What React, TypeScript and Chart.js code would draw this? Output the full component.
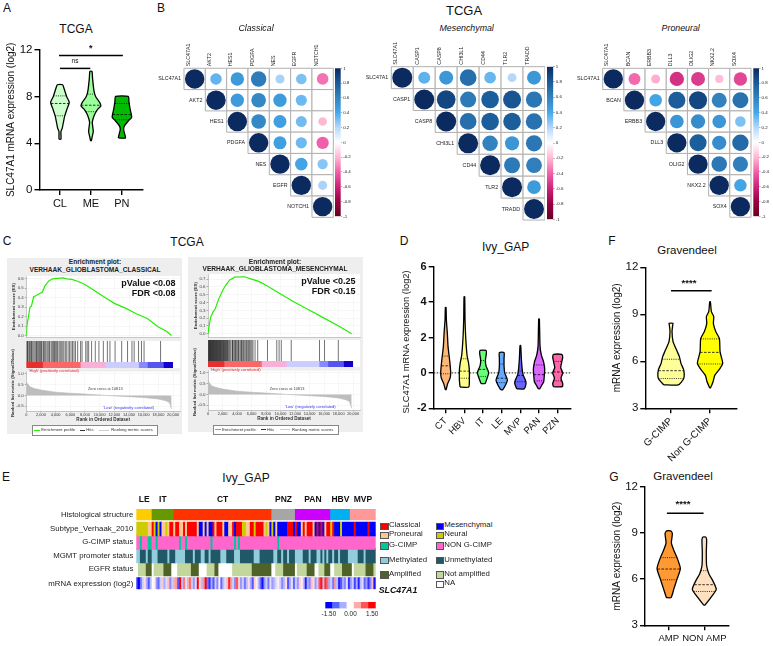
import React, { useEffect, useRef } from 'react';
import { Chart, registerables } from 'chart.js';

Chart.register(...registerables);
const FONT = '"Liberation Sans", Arial, sans-serif';
Chart.defaults.font.family = FONT;
Chart.defaults.color = '#111';

/* ---------- Panel A / D / F / G violins: [value, density], quartiles: [value, density] ---------- */
const catsA = ['CL', 'ME', 'PN'];
const violinCL = [[4.35, 3], [5, 3], [5.3, 7], [6.3, 14], [7, 22], [7.5, 28], [8, 20], [8.7, 12], [9, 8]];
const violinME = [[4.2, 1], [4.6, 4], [5, 7], [5.5, 5], [5.8, 4], [6.4, 10], [6.9, 20], [7.2, 30], [7.5, 26], [8, 14], [8.5, 9], [9.5, 5], [10.15, 3]];
const violinPN = [[4.45, 11], [4.8, 8], [5.2, 5], [5.5, 8], [5.9, 19], [6.2, 29], [6.5, 28], [7, 24], [7.6, 21], [8, 19]];
const quartCL = [[8.05, 19], [7.4, 27], [6.35, 14]];
const quartME = [[8.2, 10], [7.25, 30], [6.7, 14]];
const quartPN = [[7.4, 21], [6.45, 28], [6, 22]];
const bracketsA = [[0.97, 3.03, 11.5], [1, 1.98, 10.4]];

const catsD = ['CT', 'HBV', 'IT', 'LE', 'MVP', 'PAN', 'PZN'];
const violinCT = [[-0.95, 1], [-0.6, 6], [-0.3, 13], [0, 15], [0.5, 13], [1, 10], [1.5, 7], [2.2, 5], [3, 2], [3.7, 1]];
const violinHBV = [[-0.8, 13], [-0.4, 15], [0.1, 15], [0.5, 13], [1, 8], [2, 4], [3, 2], [4.3, 1]];
const violinIT = [[-0.6, 6], [-0.3, 12], [0, 17], [0.4, 9], [0.7, 7], [1.1, 10], [1.27, 9]];
const violinLE = [[-0.95, 3], [-0.7, 11], [-0.4, 17], [0, 9], [0.4, 7], [0.8, 7], [1.15, 7]];
const violinMVP = [[-0.9, 11], [-0.6, 17], [-0.4, 15], [-0.1, 8], [0.3, 5], [0.8, 3], [1.55, 1]];
const violinPAN = [[-0.9, 2], [-0.7, 8], [-0.5, 14], [-0.1, 16], [0.2, 17], [0.6, 14], [1, 7], [1.5, 3], [3.05, 1]];
const violinPZN = [[-0.78, 13], [-0.6, 15], [-0.3, 10], [0, 15], [0.3, 9], [0.6, 12], [0.9, 15], [1.05, 12]];
const quartCT = [[0.95, 10], [0.4, 13], [-0.05, 15]];
const quartHBV = [[0.8, 10], [0.1, 15], [-0.3, 15]];
const quartIT = [[0.7, 7], [0.2, 13], [-0.2, 14]];
const quartLE = [[0.5, 7], [-0.3, 15], [-0.55, 14]];
const quartMVP = [[0.1, 6], [-0.15, 9], [-0.5, 16]];
const quartPAN = [[0.45, 15], [-0.1, 16], [-0.45, 14]];
const quartPZN = [[0.65, 13], [0.05, 14], [-0.45, 13]];

const catsF = ['G-CIMP', 'Non G-CIMP'];
const violinGC = [[4.5, 22], [4.9, 38], [5.45, 38], [5.85, 30], [6.3, 25], [6.7, 17], [7.25, 6], [7.9, 3], [8.3, 5], [8.43, 6]];
const violinNG = [[4.3, 1], [4.7, 9], [5.1, 14], [5.55, 30], [5.87, 38], [6.6, 30], [7.45, 28], [7.9, 17], [8.4, 10], [8.85, 11], [9.17, 4], [9.8, 1]];
const quartGC = [[6.13, 26], [5.4, 38], [4.9, 38]];
const quartNG = [[7.43, 28], [6.57, 30], [5.83, 38]];
const bracketsF = [[1, 2.04, 10.5]];

const catsG = ['AMP', 'NON AMP'];
const violinAMP = [[4.8, 7], [5.4, 16], [6, 25], [6.7, 35], [7.4, 25], [7.9, 15], [8.36, 8], [8.96, 11], [9.14, 6]];
const violinNA = [[4.32, 2], [4.96, 25], [5.34, 36], [5.92, 25], [6.34, 14], [6.87, 7], [7.72, 6], [8.57, 7], [8.74, 4]];
const quartAMP = [[7.4, 25], [6.66, 34], [5.96, 25]];
const quartNA = [[6.55, 10], [5.64, 30], [5.2, 32]];
const bracketsG = [[0.95, 1.98, 10.28]];

/* ---------- Panel B correlation matrices (upper triangle by row) ---------- */
const genesCL = ['SLC47A1', 'AKT2', 'HES1', 'PDGFA', 'NES', 'EGFR', 'NOTCH1'];
const corrCL = [
  [1, 0.35, 0.48, 0.63, 0.22, 0.3, -0.36],
  [1, 0.47, 0.57, 0.47, 0.33, null],
  [1, 0.57, 0.45, 0.32, -0.2],
  [1, 0.45, 0.33, -0.4],
  [1, 0.42, 0.28],
  [1, 0.22],
  [1],
];
const genesME = ['SLC47A1', 'CASP1', 'CASP8', 'CHI3L1', 'CD44', 'TLR2', 'TRADD'];
const corrME = [
  [1, 0.36, 0.49, 0.7, 0.34, 0.2, 0.49],
  [1, 0.88, 0.64, 0.78, 0.82, 0.66],
  [1, 0.7, 0.78, 0.78, 0.68],
  [1, 0.6, 0.5, 0.66],
  [1, 0.64, 0.62],
  [1, 0.47],
  [1],
];
const genesPN = ['SLC47A1', 'BCAN', 'ERBB3', 'DLL3', 'OLIG2', 'NKX2.2', 'SOX4'];
const corrPN = [
  [1, -0.38, -0.22, -0.55, -0.52, -0.18, -0.48],
  [1, 0.42, 0.78, 0.88, 0.6, 0.68],
  [1, 0.5, 0.55, 0.5, 0.3],
  [1, 0.78, 0.55, 0.72],
  [1, 0.65, 0.62],
  [1, 0.42],
  [1],
];
const corrStops: [number, string][] = [
  [-1, '#67001f'], [-0.8, '#990044'], [-0.6, '#cc2277'], [-0.4, '#f060a8'], [-0.2, '#ffb8d4'], [0, '#ffffff'],
  [0.2, '#b5d8fa'], [0.4, '#45a8ea'], [0.6, '#3282c0'], [0.8, '#1a5a98'], [1, '#0a2a60'],
];

/* ---------- Panel C GSEA ---------- */
const esClassical = [[0, 0], [100, 0.11], [300, 0.2], [500, 0.3], [700, 0.31], [1000, 0.41], [1300, 0.42], [1700, 0.44], [2200, 0.46], [2500, 0.52], [3100, 0.58], [3600, 0.6], [5000, 0.61], [5500, 0.6], [6200, 0.595], [7000, 0.575], [8000, 0.54], [9000, 0.49], [10000, 0.44], [11000, 0.39], [12000, 0.34], [13500, 0.29], [15000, 0.23], [16500, 0.18], [18000, 0.09], [19000, 0.05], [19800, 0]];
const esMesenchymal = [[0, 0], [200, 0.13], [400, 0.22], [700, 0.28], [1000, 0.32], [1500, 0.45], [2000, 0.55], [2500, 0.63], [3000, 0.69], [3700, 0.725], [5000, 0.73], [6000, 0.7], [7000, 0.67], [8000, 0.62], [10000, 0.51], [12000, 0.4], [14000, 0.3], [16000, 0.2], [18000, 0.1], [19800, 0]];
const hitsClassical = [50, 150, 200, 350, 450, 600, 700, 800, 950, 1150, 1300, 1400, 1500, 1650, 1800, 1950, 2050, 2150, 2350, 2450, 2600, 2800, 2950, 3100, 3200, 3400, 3550, 3700, 3850, 3950, 4100, 4250, 4450, 4600, 4750, 4900, 5100, 5300, 5450, 5700, 5900, 6100, 6300, 6500, 6700, 7000, 7400, 7600, 8100, 8300, 8500, 8900, 9400, 9900, 10500, 11050, 11400, 12100, 13000, 13800, 14400, 14700, 15300, 15700, 16050, 18300];
const hitsMesenchymal = [30, 90, 150, 210, 280, 340, 400, 470, 530, 600, 660, 720, 790, 850, 920, 980, 1050, 1120, 1190, 1250, 1320, 1400, 1470, 1540, 1610, 1680, 1750, 1820, 1900, 1980, 2060, 2140, 2220, 2300, 2380, 2460, 2540, 2650, 2720, 2800, 2950, 3080, 3300, 3380, 3450, 3600, 3720, 3800, 3950, 4100, 4200, 4300, 4500, 4620, 4700, 4850, 4950, 5100, 5250, 5350, 5500, 5620, 5750, 5900, 6050, 6200, 6485, 6850, 8200, 9480, 9800, 10100, 11470, 15370, 16060, 17960];
const rankedMetric = [[0, 0.62], [500, 0.4], [1000, 0.33], [2000, 0.25], [4000, 0.15], [6000, 0.1], [8000, 0.06], [10000, 0.02], [10813, 0], [14000, -0.06], [16000, -0.1], [18000, -0.17], [19000, -0.25], [19500, -0.33], [19800, -0.65]];
const bandEdges = [0, 2300, 7450, 10860, 15400, 16600, 18770, 19950];
const bandColors = ['#e63030', '#f86868', '#f8b0d8', '#ccccff', '#8888ff', '#5555ee', '#1100cc'];
const rankTicks = [0, 2000, 4000, 6000, 8000, 10000, 12000, 14000, 16000, 18000, 20000];

/* ---------- Panel E heat map: run-length codes, 122 samples ---------- */
const rowLabels = ['Histological structure', 'Subtype_Verhaak_2010', 'G-CIMP status', 'MGMT promoter status', 'EGFR status', 'mRNA expression (log2)'];
const regionNames = ['LE', 'IT', 'CT', 'PNZ', 'PAN', 'HBV', 'MVP'];
const regionRuns = 'a8b11c50d12e18f10g13';
const subtypeRuns = 'N6P2C1N1M1N1M1P2N1P1C2P1C2P2C1P1C5P1M2P1M1P1M2C1P1C3P1M2P2C1M1C3N2P2C2N1C4P1N1P1M1N1M1P1M5C3M1C1M2P1C1P1C3P1M1C1M1C1M1P1C2N1C1M3N1M6C1M6C1M3';
const cimpRuns = 'N2G1N3G2N2G1N11G1N2G1N12G1N11G1N1G1N19G1N49';
const mgmtRuns = 'L2D3L1D2L3D5L1D3L5D4L1D3L2D2L1D5L3D4L3D7L3D7L2D2L1D2L1D3L4D3L1D3L2D1L1D1L1D2L1D2L1D4L5D3L1D5';
const egfrRuns = 'W1S4A3W1S5A4W3S7A4W4S4A2W7S10A10W2S4A6W1S5A4W2S3A3W2S4A5W1S6A4S1';
const mrnaValues = [
  -1.2, -1.5, -0.8, -0.3, 0.2, -0.5, -1, -0.4, 0, 0.1,
  -0.6, -0.9, -0.3, 0.3, -0.5, -0.2, 0.4, -0.7, -0.3, 0.5,
  0.6, -1, 1.5, -0.4, 0.8, -0.2, 0.5, 0.9, -0.3, -0.6,
  -0.2, 1.5, 0.2, -0.4, 0.6, 1.5, -0.8, -1.2, -0.5, -1,
  -0.3, -0.7, 0.1, -0.9, -0.4, -0.2, 0.4, 1.3, 0.6, -0.3,
  -0.7, 1, 0.3, -0.6, -0.3, -0.8, -0.4, 0.2, -0.5, -1,
  0.3, 0.1, -0.4, -0.9, -1.4, -0.6, -0.3, -0.8, -0.2, -0.6,
  -0.4, -0.2, 0.1, -0.3, -0.7, -0.4, 0.2, -1, -0.5, -0.2,
  -0.9, -0.3, -0.6, 0.3, 0.1, -0.4, -1.3, -0.5, -0.7, 0.4,
  0.2, -0.6, -0.3, 1, 1.4, -0.4, 1.2, 0.9, -0.5, -0.3,
  -0.8, 0.6, -0.4, -1.3, -1, -0.5, -0.7, -0.2, -1.2, -0.6,
  -0.3, -1.1, -0.5, -1.3, -0.4, -0.2, -0.9, -0.6, -1.2, -0.7,
  0.4, -1.4,
];
const regionColors: Record<string, string> = { a: '#ffcc00', b: '#669900', c: '#ff3300', d: '#a6a6a6', e: '#cc00ff', f: '#00b0f0', g: '#ff9999' };
const subtypeColors: Record<string, string> = { C: '#ff0000', P: '#ffc78f', N: '#cccc00', M: '#0000ff' };
const cimpColors: Record<string, string> = { G: '#00c896', N: '#ff66cc' };
const mgmtColors: Record<string, string> = { L: '#92cddc', D: '#205867' };
const egfrColors: Record<string, string> = { W: '#ffffff', S: '#c3d69b', A: '#4f6228' };
const scaleEdges = [-1.75, -1.25, -0.75, -0.25, 0.25, 0.75, 1.25, 1.75];
const scaleColors = ['#0000ff', '#5566ff', '#aab0ff', '#ffffff', '#ffaaaa', '#ff5555', '#ff0000'];
const legendE: [string, string, number, number][] = [
  ['Classical', '#ff0000', 0, 525.3], ['Mesenchymal', '#0000ff', 1, 525.3],
  ['Proneural', '#ffc78f', 0, 534.3], ['Neural', '#cccc00', 1, 534.3],
  ['G-CIMP', '#00c896', 0, 545], ['NON G-CIMP', '#ff66cc', 1, 545],
  ['Methylated', '#92cddc', 0, 559.7], ['Unmethylated', '#205867', 1, 559.7],
  ['Amplified', '#4f6228', 0, 574], ['Not amplified', '#c3d69b', 1, 574],
  ['NA', '#ffffff', 1, 583.3],
];

/* ---------- helpers ---------- */
type Box = { x: number; y: number; w: number; h: number };
type Plot = { l: number; t: number; r: number; b: number };

function place(cfg: any, box: Box, plot: Plot) {
  const pad: any = { left: plot.l - box.x, top: plot.t - box.y, right: box.x + box.w - plot.r, bottom: box.y + box.h - plot.b };
  const scales = cfg.options.scales || {};
  for (const key of Object.keys(scales)) {
    const s = scales[key];
    if (s.display === false) continue;
    const isX = key[0] === 'x';
    const pos = s.position || (isX ? 'bottom' : 'left');
    const size = pad[pos];
    pad[pos] = 0;
    s.afterFit = (sc: any) => { if (isX) sc.height = size; else sc.width = size; };
  }
  cfg.options.layout = { padding: pad, autoPadding: false };
  cfg.options.responsive = false;
  cfg.options.animation = false;
  cfg.options.events = [];
  cfg.options.plugins = Object.assign({ legend: { display: false }, tooltip: { enabled: false } }, cfg.options.plugins || {});
  return cfg;
}

function ChartBox({ box, plot, make }: { box: Box; plot: Plot; make: () => any }) {
  const ref = useRef<HTMLCanvasElement>(null);
  useEffect(() => {
    const c = new Chart(ref.current as any, place(make(), box, plot));
    return () => c.destroy();
  }, []);
  return <canvas ref={ref} width={box.w} height={box.h} style={{ position: 'absolute', left: box.x, top: box.y, width: box.w, height: box.h }} />;
}

function Txt({ x, y, s, size, bold, italic, rot, color, align }: any) {
  const tx = align === 'left' ? '0' : align === 'right' ? '-100%' : '-50%';
  return (
    <div style={{
      position: 'absolute', left: x, top: y, whiteSpace: 'nowrap', fontFamily: FONT, fontSize: size, lineHeight: 1,
      fontWeight: bold ? 700 : 400, fontStyle: italic ? 'italic' : 'normal', color: color || '#111',
      transform: `translate(${tx},-50%)${rot ? ` rotate(${rot}deg)` : ''}`,
    }}>{s}</div>
  );
}

const plotBg = {
  id: 'plotBg',
  beforeDraw(chart: any) {
    const a = chart.chartArea;
    chart.ctx.save();
    chart.ctx.fillStyle = '#ffffff';
    chart.ctx.fillRect(a.left, a.top, a.right - a.left, a.bottom - a.top);
    chart.ctx.restore();
  },
};

const violinFill = {
  id: 'violinFill',
  beforeDatasetDraw(chart: any, args: any) {
    const ds = chart.data.datasets[args.index];
    if (!ds.violinFill) return;
    const line = args.meta.dataset;
    line.updateControlPoints(chart.chartArea);
    const ctx = chart.ctx;
    ctx.save();
    ctx.beginPath();
    line.path(ctx);
    ctx.closePath();
    ctx.fillStyle = ds.violinFill;
    ctx.fill();
    ctx.restore();
  },
};

function violinChart(o: any) {
  const { labels, items, k, xMin, xMax, yMin, yMax, yStep, brackets, yTitle, tickFont, xFont, rotate, zeroLine, yBold, titleFont } = o;
  const datasets: any[] = [];
  const line = (data: any[], w: number, dash: number[]) => ({ data, showLine: true, pointRadius: 0, borderColor: '#000', borderWidth: w, borderDash: dash, clip: false, tension: 0 });
  items.forEach((it: any, i: number) => {
    const c = i + 1;
    it.quart.forEach((q: number[], j: number) => {
      datasets.push(line([{ x: c - q[1] * k, y: q[0] }, { x: c + q[1] * k, y: q[0] }], 0.8, j === 1 ? [2.5, 1.5] : [1, 1.2]));
    });
  });
  (brackets || []).forEach((b: number[]) => datasets.push(line([{ x: b[0], y: b[2] }, { x: b[1], y: b[2] }], 1.5, [])));
  items.forEach((it: any, i: number) => {
    const c = i + 1;
    const left = it.profile.map((p: number[]) => ({ x: c - p[1] * k, y: p[0] }));
    const right = it.profile.slice().reverse().map((p: number[]) => ({ x: c + p[1] * k, y: p[0] }));
    datasets.push({ ...line([...left, ...right, left[0]], 1.3, []), tension: 0.2, violinFill: it.color, borderJoinStyle: 'round' });
  });
  if (zeroLine) datasets.push(line([{ x: xMin, y: 0 }, { x: xMax, y: 0 }], 0.9, [1.5, 1.5]));
  const axisGrid = { drawOnChartArea: false, drawTicks: true, tickLength: 5, tickColor: '#000', tickWidth: 1.4, lineWidth: 1.4 };
  return {
    type: 'scatter',
    data: { datasets },
    plugins: [violinFill],
    options: {
      scales: {
        x: {
          type: 'linear', min: xMin, max: xMax, grid: axisGrid, border: { color: '#000', width: 1.4 },
          afterBuildTicks: (s: any) => { s.ticks = labels.map((_: string, i: number) => ({ value: i + 1 })); },
          ticks: {
            autoSkip: false, padding: 2, color: '#111', font: { size: xFont },
            minRotation: rotate || 0, maxRotation: rotate || 0,
            callback: (_: any, i: number) => labels[i],
          },
        },
        y: {
          type: 'linear', min: yMin, max: yMax, grid: axisGrid, border: { color: '#000', width: 1.4 },
          ticks: { stepSize: yStep, padding: 2, color: '#111', font: { size: tickFont, weight: yBold ? 'bold' : 'normal' } },
          title: yTitle ? { display: true, text: yTitle, color: '#111', font: { size: titleFont || 10 }, padding: 0 } : { display: false },
        },
      },
    },
  };
}

function stopColor(stops: [number, string][], v: number) {
  const hex = (h: string) => [1, 3, 5].map((i) => parseInt(h.slice(i, i + 2), 16));
  for (let i = 1; i < stops.length; i++) {
    if (v <= stops[i][0]) {
      const t = (v - stops[i - 1][0]) / (stops[i][0] - stops[i - 1][0]);
      const a = hex(stops[i - 1][1]);
      const b = hex(stops[i][1]);
      return `rgb(${a.map((x, j) => Math.round(x + (b[j] - x) * t)).join(',')})`;
    }
  }
  return stops[stops.length - 1][1];
}

const rowLabelPlugin = {
  id: 'rowLabelPlugin',
  afterDraw(chart: any) {
    const labels = chart.config.options.rowNames;
    const { ctx, scales } = chart;
    ctx.save();
    ctx.font = `5.3px ${FONT}`;
    ctx.fillStyle = '#222';
    ctx.textAlign = 'right';
    ctx.textBaseline = 'middle';
    labels.forEach((s: string, i: number) => ctx.fillText(s, scales.x.getPixelForValue(i - 0.5) - 3, scales.y.getPixelForValue(i)));
    ctx.restore();
  },
};

function corrChart(genes: string[], matrix: (number | null)[][], cell: number) {
  const circles: any[] = [];
  const colors: string[] = [];
  const cells: any[] = [];
  matrix.forEach((row, i) => row.forEach((v, j) => {
    const col = i + j;
    cells.push({ x: col, y: i, r: cell * Math.SQRT1_2 });
    if (v !== null) {
      circles.push({ x: col, y: i, r: Math.sqrt(Math.abs(v)) * cell * 0.455 });
      colors.push(stopColor(corrStops, v));
    }
  }));
  return {
    type: 'bubble',
    data: {
      datasets: [
        { data: circles, backgroundColor: colors, borderWidth: 0, clip: false },
        { data: cells, pointStyle: 'rect', backgroundColor: '#ffffff', borderColor: '#b0b0b0', borderWidth: 1, clip: false },
      ],
    },
    plugins: [rowLabelPlugin],
    options: {
      rowNames: genes,
      scales: {
        x: {
          type: 'linear', position: 'top', min: -0.5, max: 6.5,
          grid: { display: false, drawTicks: false }, border: { display: false },
          afterBuildTicks: (s: any) => { s.ticks = genes.map((_, i) => ({ value: i })); },
          ticks: { autoSkip: false, minRotation: 90, maxRotation: 90, padding: 2, color: '#222', font: { size: 5.3 }, callback: (_: any, i: number) => genes[i] },
        },
        y: { type: 'linear', display: false, reverse: true, min: -0.5, max: 6.5 },
      },
    },
  };
}

function colorBar() {
  return {
    type: 'bar',
    data: {
      labels: ['r'],
      datasets: [{
        data: [[-1, 1]],
        barPercentage: 1,
        categoryPercentage: 1,
        backgroundColor: (c: any) => {
          const a = c.chart.chartArea;
          if (!a) return '#fff';
          const g = c.chart.ctx.createLinearGradient(0, a.bottom, 0, a.top);
          corrStops.forEach(([v, col]) => g.addColorStop((v + 1) / 2, col));
          return g;
        },
      }],
    },
    options: {
      scales: {
        x: { display: false },
        y: {
          type: 'linear', position: 'right', min: -1, max: 1, border: { display: false },
          grid: { drawOnChartArea: false, drawTicks: true, tickLength: 1.5, tickColor: '#666', tickWidth: 0.5 },
          ticks: { stepSize: 0.2, padding: 1, color: '#222', font: { size: 4.4 }, callback: (v: number) => String(+(+v).toFixed(1)) },
        },
      },
    },
  };
}

function esChart(curve: number[][], yMin: number, yMax: number, top: number) {
  const ticks = [0, 0.1, 0.2, 0.3, 0.4, 0.5, 0.6, 0.7].filter((v) => v <= top);
  return {
    type: 'scatter',
    data: { datasets: [{ data: curve.map(([x, y]) => ({ x, y })), showLine: true, pointRadius: 0, borderColor: '#22f000', borderWidth: 1.2, tension: 0 }] },
    plugins: [plotBg],
    options: {
      scales: {
        x: {
          type: 'linear', min: 0, max: 20950, border: { color: '#999', width: 0.5 },
          grid: { color: '#efefef', lineWidth: 0.5, drawTicks: false },
          afterBuildTicks: (s: any) => { s.ticks = rankTicks.map((value) => ({ value })); },
          ticks: { display: false },
        },
        y: {
          type: 'linear', min: yMin, max: yMax, border: { color: '#999', width: 0.5 },
          grid: { color: '#efefef', lineWidth: 0.5, tickColor: '#666', tickLength: 1.5 },
          afterBuildTicks: (s: any) => { s.ticks = ticks.map((value) => ({ value })); },
          ticks: { padding: 1, color: '#444', font: { size: 4.4 }, callback: (v: number) => (+v).toFixed(1) },
          title: { display: true, text: 'Enrichment score (ES)', color: '#333', font: { size: 4.4, weight: 'bold' }, padding: 0 },
        },
      },
    },
  };
}

function hitsChart(hits: number[]) {
  return {
    type: 'bar',
    data: { datasets: [{ data: hits.map((x) => ({ x, y: 1 })), barThickness: 1, backgroundColor: 'rgba(0,0,0,0.55)', borderWidth: 0, inflateAmount: 0 }] },
    plugins: [plotBg],
    options: {
      scales: {
        x: { type: 'linear', display: false, offset: false, min: 0, max: 20950 },
        y: { type: 'linear', display: false, min: 0, max: 1 },
      },
    },
  };
}

function bandChart() {
  return {
    type: 'bar',
    data: {
      labels: ['band'],
      datasets: [{
        data: bandColors.map((_, i) => ({ x: [bandEdges[i], bandEdges[i + 1]], y: 'band' })),
        backgroundColor: bandColors, barThickness: 6, borderWidth: 0,
      }],
    },
    plugins: [plotBg],
    options: {
      indexAxis: 'y',
      scales: {
        x: { type: 'linear', display: false, min: 0, max: 20950 },
        y: { type: 'category', display: false },
      },
    },
  };
}

function metricChart(curve: number[][]) {
  return {
    type: 'scatter',
    data: { datasets: [{ data: curve.map(([x, y]) => ({ x, y })), showLine: true, pointRadius: 0, borderColor: '#b8b8b8', borderWidth: 0.6, backgroundColor: '#bdbdbd', fill: 'origin', tension: 0 }] },
    plugins: [plotBg],
    options: {
      scales: {
        x: {
          type: 'linear', min: 0, max: 20950, border: { color: '#999', width: 0.5 },
          grid: { color: '#efefef', lineWidth: 0.5, tickColor: '#666', tickLength: 1.5 },
          afterBuildTicks: (s: any) => { s.ticks = rankTicks.map((value) => ({ value })); },
          ticks: { autoSkip: false, padding: 0.5, maxRotation: 0, color: '#333', font: { size: 3.9 }, callback: (v: number) => (+v).toLocaleString('en-US') },
          title: { display: true, text: 'Rank in Ordered Dataset', color: '#333', font: { size: 4.6, weight: 'bold' }, padding: 0 },
        },
        y: {
          type: 'linear', min: -0.73, max: 1.11, border: { color: '#999', width: 0.5 },
          grid: { color: '#efefef', lineWidth: 0.5, tickColor: '#666', tickLength: 1.5 },
          afterBuildTicks: (s: any) => { s.ticks = [1, 0.5, 0, -0.5].map((value) => ({ value })); },
          ticks: { padding: 1, color: '#444', font: { size: 4.4 }, callback: (v: number) => (+v).toFixed(1) },
        },
      },
    },
  };
}

function parseRuns(code: string) {
  const out: { key: string; start: number; end: number }[] = [];
  let pos = 0;
  for (const m of code.matchAll(/([A-Za-z])(\d+)/g)) {
    const n = Number(m[2]);
    out.push({ key: m[1], start: pos, end: pos + n });
    pos += n;
  }
  return out;
}

const rowCenters = [5.8, 21.7, 36, 50.5, 64.8, 80.7];
const rowThick = [11, 14, 14.6, 14.4, 14.4, 12];

function heatChart() {
  const runRow = (code: string, colors: Record<string, string>, row: number) => {
    const runs = parseRuns(code);
    return {
      data: runs.map((r) => ({ x: [r.start, r.end], y: rowCenters[row] })),
      backgroundColor: runs.map((r) => colors[r.key]),
      barThickness: rowThick[row], grouped: false, borderWidth: 0,
    };
  };
  const regions = parseRuns(regionRuns);
  const centers = regions.map((r) => (r.start + r.end) / 2);
  const mrna = {
    data: mrnaValues.map((_, i) => ({ x: [i, i + 1], y: rowCenters[5] })),
    backgroundColor: mrnaValues.map((v) => stopColor([[-1.5, '#0000ff'], [0, '#ffffff'], [1.5, '#ff0000']], v)),
    barThickness: rowThick[5], grouped: false, borderWidth: 0,
  };
  return {
    type: 'bar',
    data: {
      datasets: [
        runRow(regionRuns, regionColors, 0),
        runRow(subtypeRuns, subtypeColors, 1),
        runRow(cimpRuns, cimpColors, 2),
        runRow(mgmtRuns, mgmtColors, 3),
        runRow(egfrRuns, egfrColors, 4),
        mrna,
      ],
    },
    options: {
      indexAxis: 'y',
      scales: {
        x: { type: 'linear', display: false, min: 0, max: 122 },
        x2: {
          type: 'linear', position: 'top', min: 0, max: 122, grid: { display: false, drawTicks: false }, border: { display: false },
          afterBuildTicks: (s: any) => { s.ticks = centers.map((value) => ({ value })); },
          ticks: { autoSkip: false, maxRotation: 0, padding: 4, color: '#111', font: { size: 8.5, weight: 'bold' }, callback: (_: any, i: number) => regionNames[i] },
        },
        y: {
          type: 'linear', reverse: true, offset: false, min: 0, max: 87, grid: { display: false, drawTicks: false }, border: { display: false },
          afterBuildTicks: (s: any) => { s.ticks = rowCenters.map((value) => ({ value })); },
          ticks: { autoSkip: false, padding: 3, color: '#222', font: { size: 7.8 }, callback: (_: any, i: number) => rowLabels[i] },
        },
      },
    },
  };
}

function scaleChart() {
  return {
    type: 'bar',
    data: {
      labels: ['scale'],
      datasets: [{
        data: scaleColors.map((_, i) => ({ x: [scaleEdges[i], scaleEdges[i + 1]], y: 'scale' })),
        backgroundColor: scaleColors, barThickness: 6.5, borderWidth: 0,
      }],
    },
    options: {
      indexAxis: 'y',
      scales: {
        x: {
          type: 'linear', min: -1.75, max: 1.75, grid: { display: false, drawTicks: false }, border: { display: false },
          afterBuildTicks: (s: any) => { s.ticks = [-1.5, 0, 1.5].map((value) => ({ value })); },
          ticks: { autoSkip: false, maxRotation: 0, padding: 2, color: '#222', font: { size: 6.4 }, callback: (v: number) => (+v).toFixed(2) },
        },
        y: { type: 'category', display: false },
      },
    },
  };
}

function GseaLegend({ x, y }: { x: number; y: number }) {
  const seg = (l: number, w: number, c: string) => <div style={{ position: 'absolute', left: l, top: 3.7, width: w, height: 1, background: c }} />;
  return (
    <div style={{ position: 'absolute', left: x, top: y, width: 124, height: 8.5, border: '0.6px solid #888', background: '#fff' }}>
      {seg(1, 6, '#22f000')}
      <Txt x={8} y={4.2} s="Enrichment profile" size={4.2} align="left" color="#333" />
      {seg(47, 5, '#333')}
      <Txt x={53} y={4.2} s="Hits" size={4.2} align="left" color="#333" />
      {seg(66, 10, '#ccc')}
      <Txt x={78} y={4.2} s="Ranking metric scores" size={4.2} align="left" color="#333" />
    </div>
  );
}

function Gsea({ panel, plotL, plotR, lay, title, p, f, es, hits, esRange, esTop }: any) {
  const cx = plotL - 15;
  const w = plotR - cx + 3;
  const box = (y: number, h: number) => ({ x: Math.floor(cx), y, w: Math.ceil(w), h });
  return (
    <>
      <div style={{ position: 'absolute', left: panel.l, top: panel.t, width: panel.r - panel.l, height: panel.b - panel.t, background: '#eeeeee' }} />
      <Txt x={lay.cx} y={lay.t1} s="Enrichment plot:" size={6.6} bold color="#222" />
      <Txt x={lay.cx} y={lay.t2} s={title} size={6.6} bold color="#222" />
      <ChartBox box={box(lay.esT - 4, lay.esB - lay.esT + 5)} plot={{ l: plotL, t: lay.esT, r: plotR, b: lay.esB }} make={() => esChart(es, esRange[0], esRange[1], esTop)} />
      <ChartBox box={box(lay.hitT, lay.hitB - lay.hitT)} plot={{ l: plotL, t: lay.hitT, r: plotR, b: lay.hitB }} make={() => hitsChart(hits)} />
      <ChartBox box={box(lay.hitB, lay.bandB - lay.hitB)} plot={{ l: plotL, t: lay.hitB, r: plotR, b: lay.bandB }} make={bandChart} />
      <ChartBox box={box(lay.mT - 1, lay.mB - lay.mT + 12)} plot={{ l: plotL, t: lay.mT, r: plotR, b: lay.mB }} make={() => metricChart(rankedMetric)} />
      <Txt x={plotR - 4.5} y={lay.t3} s={p} size={9} bold align="right" />
      <Txt x={plotR - 4.5} y={lay.t4} s={f} size={9} bold align="right" />
      <Txt x={plotL + 79} y={lay.zero} s="Zero cross at 10813" size={3.9} color="#444" />
      <Txt x={plotL + 2.5} y={lay.bandB + 2.7} s="'High' (positively correlated)" size={4.1} color="#ee2222" align="left" />
      <Txt x={plotL + 77} y={lay.low} s="'Low' (negatively correlated)" size={4.1} color="#3333ee" align="left" />
      <Txt x={plotL - 13} y={lay.mlabel} s="Ranked list metric (Signal2Noise)" size={4.3} bold rot={-90} color="#333" />
      <GseaLegend x={plotL + lay.legX} y={lay.legY} />
    </>
  );
}

export default function App() {
  return (
    <div style={{ position: 'fixed', left: 0, top: 0, width: 773, height: 646, background: '#fff', overflow: 'hidden' }}>
      <Txt x={7} y={8} s="A" size={12} />
      <Txt x={161} y={8} s="B" size={12} />
      <Txt x={7} y={241} s="C" size={12} />
      <Txt x={404} y={241} s="D" size={12} />
      <Txt x={6} y={477} s="E" size={12} />
      <Txt x={612} y={241} s="F" size={12} />
      <Txt x={614} y={477} s="G" size={12} />

      <Txt x={76} y={29} s="TCGA" size={12} />
      <Txt x={464} y={10} s="TCGA" size={13} />
      <Txt x={187} y={242} s="TCGA" size={12} />
      <Txt x={505.7} y={247} s="Ivy_GAP" size={12} />
      <Txt x={246} y={477.7} s="Ivy_GAP" size={12} />
      <Txt x={687} y={251} s="Gravendeel" size={11.5} />
      <Txt x={683} y={477} s="Gravendeel" size={11.5} />

      {/* A */}
      <ChartBox box={{ x: 5, y: 40, w: 145, h: 175 }} plot={{ l: 39.5, t: 49.7, r: 143, b: 190 }} make={() => violinChart({
        labels: catsA, k: 1 / 93, xMin: 0.34, xMax: 3.68, yMin: 0, yMax: 12, yStep: 4, brackets: bracketsA,
        yTitle: 'SLC47A1 mRNA expression (log2)', tickFont: 11.5, xFont: 11,
        items: [
          { color: '#ccffcc', profile: violinCL, quart: quartCL },
          { color: '#99ff99', profile: violinME, quart: quartME },
          { color: '#00bb00', profile: violinPN, quart: quartPN },
        ],
      })} />
      <Txt x={90.7} y={48} s="*" size={9} bold />
      <Txt x={75} y={61} s="ns" size={6.5} />

      {/* B */}
      <Txt x={256} y={27.7} s="Classical" size={8.8} italic />
      <ChartBox box={{ x: 130, y: 30, w: 205, h: 190 }} plot={{ l: 184, t: 68.3, r: 333.3, b: 217.3 }} make={() => corrChart(genesCL, corrCL, 21.33)} />
      <ChartBox box={{ x: 335, y: 60, w: 20, h: 160 }} plot={{ l: 335, t: 68.3, r: 340.7, b: 217.3 }} make={colorBar} />
      <Txt x={466.7} y={28} s="Mesenchymal" size={8.8} italic />
      <ChartBox box={{ x: 345, y: 30, w: 200, h: 193 }} plot={{ l: 391.3, t: 66.7, r: 545, b: 220 }} make={() => corrChart(genesME, corrME, 21.95)} />
      <ChartBox box={{ x: 547, y: 60, w: 20, h: 163 }} plot={{ l: 547, t: 66.7, r: 553.3, b: 220 }} make={colorBar} />
      <Txt x={680.7} y={28} s="Proneural" size={8.8} italic />
      <ChartBox box={{ x: 560, y: 30, w: 192, h: 190 }} plot={{ l: 602.7, t: 68.3, r: 751, b: 217.3 }} make={() => corrChart(genesPN, corrPN, 21.2)} />
      <ChartBox box={{ x: 753, y: 60, w: 20, h: 160 }} plot={{ l: 753.3, t: 68.3, r: 759, b: 217.3 }} make={colorBar} />

      {/* C */}
      <Gsea panel={{ l: 7, t: 258, r: 182, b: 434 }} plotL={26.3} plotR={180}
        lay={{ cx: 95, t1: 262, t2: 270, esT: 276, esB: 340, hitT: 341, hitB: 362, bandB: 368, mT: 369, mB: 411, t3: 283.3, t4: 293.3, zero: 389, low: 407.7, mlabel: 383, legX: 6, legY: 425 }}
        title="VERHAAK_GLIOBLASTOMA_CLASSICAL" p="pValue <0.08" f="FDR <0.08" es={esClassical} hits={hitsClassical} esRange={[-0.02, 0.63]} esTop={0.6} />
      <Gsea panel={{ l: 188, t: 257, r: 363, b: 432 }} plotL={208} plotR={360}
        lay={{ cx: 275, t1: 261.7, t2: 269, esT: 274, esB: 340, hitT: 340, hitB: 361, bandB: 367, mT: 368, mB: 410, t3: 281, t4: 291, zero: 388.5, low: 407, mlabel: 382, legX: 5, legY: 424.5 }}
        title="VERHAAK_GLIOBLASTOMA_MESENCHYMAL" p="pValue <0.25" f="FDR <0.15" es={esMesenchymal} hits={hitsMesenchymal} esRange={[-0.046, 0.765]} esTop={0.7} />

      {/* D */}
      <ChartBox box={{ x: 410, y: 258, w: 165, h: 178 }} plot={{ l: 433.7, t: 266.7, r: 570.7, b: 408.3 }} make={() => violinChart({
        labels: catsD, k: 1 / 56, xMin: 0.357, xMax: 7.696, yMin: -2, yMax: 6, yStep: 2, tickFont: 11, xFont: 9.5, rotate: 45, zeroLine: true, yBold: true,
        items: [
          { color: '#fdb877', profile: violinCT, quart: quartCT },
          { color: '#ffff88', profile: violinHBV, quart: quartHBV },
          { color: '#66ff77', profile: violinIT, quart: quartIT },
          { color: '#66aaff', profile: violinLE, quart: quartLE },
          { color: '#6666ff', profile: violinMVP, quart: quartMVP },
          { color: '#dd66ff', profile: violinPAN, quart: quartPAN },
          { color: '#ff66aa', profile: violinPZN, quart: quartPZN },
        ],
      })} />
      <Txt x={406.7} y={341.5} s="SLC47A1 mRNA expression (log2)" size={9.3} rot={-90} />

      {/* E */}
      <ChartBox box={{ x: 40, y: 490, w: 337, h: 107 }} plot={{ l: 136.3, t: 509, r: 375.7, b: 596 }} make={heatChart} />
      <ChartBox box={{ x: 315, y: 601, w: 70, h: 20 }} plot={{ l: 325.3, t: 602, r: 375.7, b: 608.5 }} make={scaleChart} />
      {legendE.map(([s, c, col, y]) => (
        <React.Fragment key={s}>
          <div style={{ position: 'absolute', left: col ? 435.5 : 380, top: y - 2.8, width: 6.5, height: 5.5, background: c, border: '0.6px solid #555' }} />
          <Txt x={col ? 444.3 : 389} y={y} s={s} size={7.8} align="left" color="#222" />
        </React.Fragment>
      ))}
      <Txt x={378.7} y={590.3} s="SLC47A1" size={8.8} bold italic align="left" />

      {/* F */}
      <ChartBox box={{ x: 611, y: 258, w: 135, h: 205 }} plot={{ l: 645.3, t: 267.3, r: 737, b: 408.3 }} make={() => violinChart({
        labels: catsF, k: 1 / 117, xMin: 0.341, xMax: 2.69, yMin: 3, yMax: 12, yStep: 3, brackets: bracketsF,
        yTitle: 'mRNA expression (log2)', tickFont: 11.5, xFont: 10, rotate: 45,
        items: [
          { color: '#ffff99', profile: violinGC, quart: quartGC },
          { color: '#ffff00', profile: violinNG, quart: quartNG },
        ],
      })} />
      <Txt x={689} y={283} s="****" size={9.5} bold />

      {/* G */}
      <ChartBox box={{ x: 611, y: 478, w: 130, h: 168 }} plot={{ l: 645, t: 484.7, r: 729, b: 625.3 }} make={() => violinChart({
        labels: catsG, k: 1 / 107, xMin: 0.334, xMax: 2.694, yMin: 3, yMax: 12, yStep: 3, brackets: bracketsG,
        yTitle: 'mRNA expression (log2)', tickFont: 11.5, xFont: 9.5,
        items: [
          { color: '#ff9933', profile: violinAMP, quart: quartAMP },
          { color: '#ffe0bf', profile: violinNA, quart: quartNA },
        ],
      })} />
      <Txt x={683} y={504} s="****" size={9.5} bold />
    </div>
  );
}
